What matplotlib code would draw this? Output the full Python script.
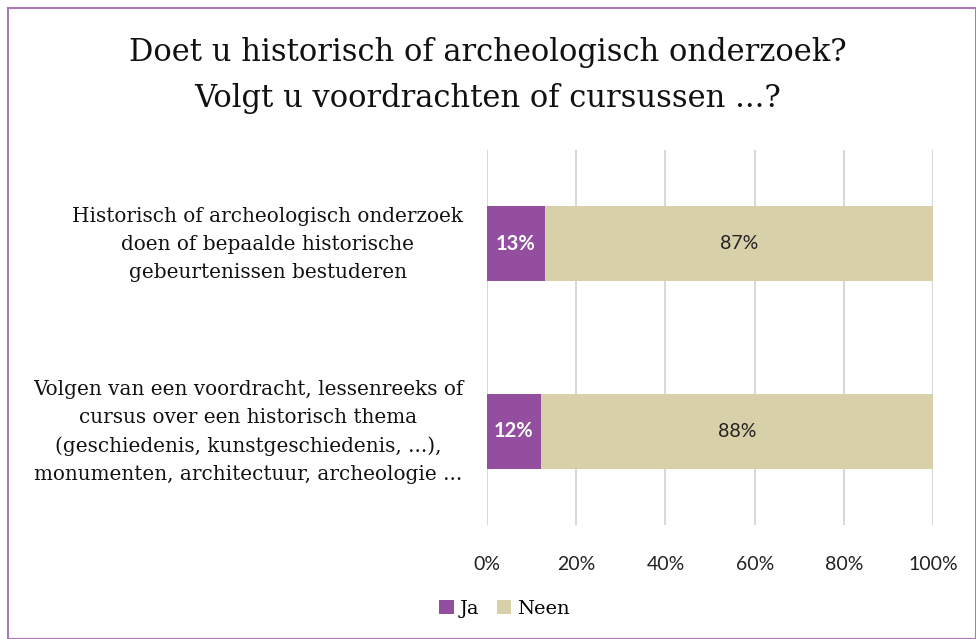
import matplotlib
matplotlib.use("Agg")
import matplotlib.pyplot as plt
import matplotlib.transforms as mtransforms
from matplotlib.patches import Rectangle
from matplotlib.ticker import FuncFormatter

categories = ["Historisch of archeologisch onderzoek\ndoen of bepaalde historische\ngebeurtenissen bestuderen",
              "Volgen van een voordracht, lessenreeks of\ncursus over een historisch thema\n(geschiedenis, kunstgeschiedenis, ...),\nmonumenten, architectuur, archeologie ..."]
ja = [13, 12]
neen = [87, 88]
series_names = ["Ja", "Neen"]
xticks = [0, 20, 40, 60, 80, 100]

c_ja = "#944E9F"
c_neen = "#D8D0A9"
serif = "DejaVu Serif"
sans = "Lato"

fig = plt.figure(figsize=(9.76, 6.39), dpi=100)
ax = fig.add_axes([0.499, 0.178, 0.457, 0.587])

ypos = range(len(categories))
ax.barh(ypos, ja, height=0.4, color=c_ja, label=series_names[0], zorder=3)
ax.barh(ypos, neen, left=ja, height=0.4, color=c_neen, label=series_names[1], zorder=3)

for y, a, b in zip(ypos, ja, neen):
    ax.text(a / 2, y, f"{a}%", ha="center", va="center", color="white",
            fontsize=14.5, fontweight="bold", family=sans, zorder=4)
    ax.text(a + b / 2, y, f"{b}%", ha="center", va="center", color="#222222",
            fontsize=14, family=sans, zorder=4)

ax.set_xlim(0, 100)
ax.set_ylim(1.5, -0.5)
ax.set_xticks(xticks)
ax.xaxis.set_major_formatter(FuncFormatter(lambda v, p: f"{v:.0f}%"))
ax.set_yticks(list(ypos))
ax.set_yticklabels(categories, family=serif, fontsize=14.4, color="#111111",
                   ha="right", multialignment="center", linespacing=1.6)
ax.tick_params(axis="y", length=0, pad=17)
ax.tick_params(axis="x", length=0, pad=22, labelsize=14, labelcolor="#222222")
for lab in ax.get_xticklabels():
    lab.set_family(sans)

# nudge the category labels up a little
offset = mtransforms.ScaledTranslation(0, 0.06, fig.dpi_scale_trans)
for lab in ax.get_yticklabels():
    lab.set_transform(lab.get_transform() + offset)

ax.grid(axis="x", color="#D9D9D9", linewidth=1.5, zorder=0)
for s in ax.spines.values():
    s.set_visible(False)

fig.text(0.5, 0.882, "Doet u historisch of archeologisch onderzoek?\nVolgt u voordrachten of cursussen ...?",
         ha="center", va="center", fontsize=22, family=serif, color="#111111", linespacing=1.62)

leg = fig.legend(loc="center", bbox_to_anchor=(0.517, 0.047), ncol=2, frameon=False,
                 prop={"family": serif, "size": 14}, handlelength=0.75, handleheight=0.75,
                 columnspacing=0.9, handletextpad=0.3)

fig.patches.append(Rectangle((8 / 976, 0), 1 - 8 / 976, 1 - 8 / 639, transform=fig.transFigure,
                             fill=False, edgecolor="#A878B8", linewidth=1.5))

fig.savefig("out.png", dpi=100)
